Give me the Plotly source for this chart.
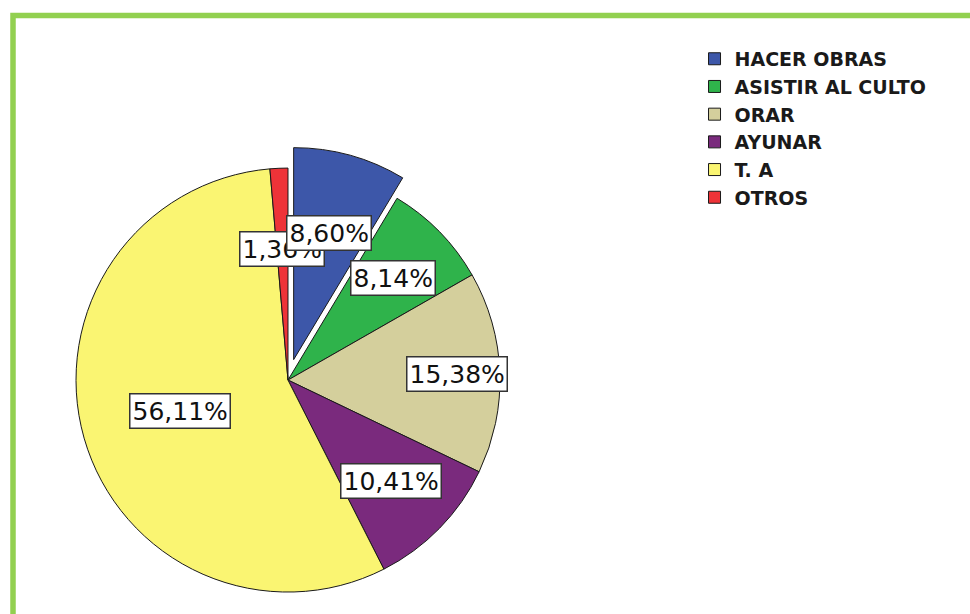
import math
import plotly.graph_objects as go

# ---- data ----
categories = ["HACER OBRAS", "ASISTIR AL CULTO", "ORAR", "AYUNAR", "T. A", "OTROS"]
percentages = [8.60, 8.14, 15.38, 10.41, 56.11, 1.36]
colors = ["#3D57A9", "#2FB34B", "#D4CF9C", "#7A2A7D", "#FAF572", "#EE3338"]
pulls = [0.10, 0, 0, 0, 0, 0]

# ---- layout parameters ----
W, H = 970, 614
dom_x = [0.0565, 0.5373]
dom_y = [0.0012, 0.7608]
label_frac = [0.62, 0.69, 0.80, 0.68, 0.53, 0.62]

fig = go.Figure()
fig.add_trace(go.Pie(
    labels=categories,
    values=percentages,
    sort=False,
    direction="clockwise",
    rotation=0,
    pull=pulls,
    textinfo="none",
    hoverinfo="label+percent",
    marker=dict(colors=colors, line=dict(color="#1a1a1a", width=1)),
    domain=dict(x=dom_x, y=dom_y),
))

# Geometry the same way plotly computes it (margins are zero)
box_w = W * (dom_x[1] - dom_x[0])
box_h = H * (dom_y[1] - dom_y[0])
r = min(box_w, box_h) / 2 / (1 + max(pulls))
cx = W * (dom_x[0] + dom_x[1]) / 2
cy = H * (1 - (dom_y[0] + dom_y[1]) / 2)

total = sum(percentages)
annos = []
cum = 0.0
for i, v in enumerate(percentages):
    mid = (cum + v / 2) / total * 2 * math.pi
    cum += v
    d = (label_frac[i] + pulls[i]) * r
    px = cx + d * math.sin(mid)
    py = cy - d * math.cos(mid)
    annos.append(dict(
        x=px / W, y=1 - py / H, xref="paper", yref="paper",
        text=f"{v:.2f}".replace(".", ",") + "%",
        showarrow=False,
        font=dict(family="DejaVu Sans", size=25, color="#111111"),
        bgcolor="white", bordercolor="#333333", borderwidth=1.5, borderpad=2,
        xanchor="center", yanchor="middle",
    ))
# small OTROS label drawn first so the HACER OBRAS label overlaps it
order = [5, 0, 1, 2, 3, 4]
annos = [annos[i] for i in order]

fig.update_layout(
    width=W, height=H,
    margin=dict(l=0, r=0, t=0, b=0),
    paper_bgcolor="white",
    plot_bgcolor="white",
    annotations=annos,
    legend=dict(
        x=0.716, y=0.935, xanchor="left", yanchor="top",
        font=dict(family="DejaVu Sans", size=19, color="#1a1a1a", weight="bold"),
        bgcolor="rgba(0,0,0,0)",
    ),
    shapes=[dict(
        type="rect", xref="paper", yref="paper",
        x0=13 / W, y0=1 - 15.5 / H, x1=1.05, y1=-0.05,
        line=dict(color="#92D050", width=5.5), layer="below",
    )],
)

fig.write_html(
    "out.html",
    config={"displayModeBar": False},
    post_script="document.body.style.margin='0';document.body.style.overflow='hidden';",
)
